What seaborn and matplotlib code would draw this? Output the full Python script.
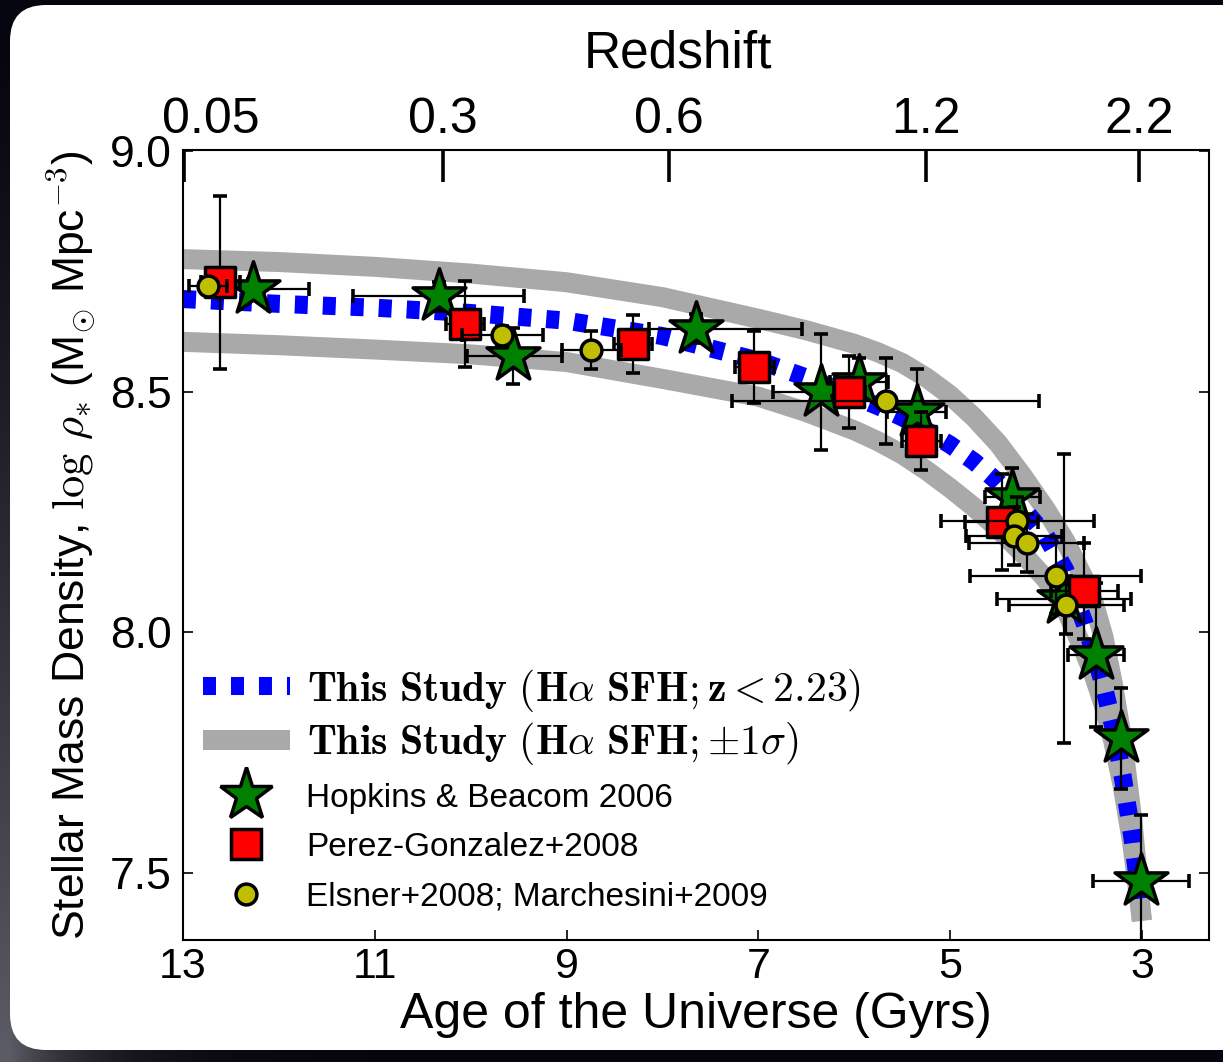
import numpy as np
import pandas as pd
import matplotlib
matplotlib.use("Agg")
import matplotlib.pyplot as plt
import seaborn as sns
from matplotlib.lines import Line2D
from matplotlib.patches import FancyBboxPatch
from matplotlib.transforms import ScaledTranslation

# ---------------- data ----------------
curve_age = [13.0, 12.0, 11.0, 10.0, 9.0, 8.0, 7.0, 6.5, 6.0, 5.75, 5.5, 5.25, 5.0, 4.75,
             4.5, 4.25, 4.0, 3.8, 3.6, 3.5, 3.4, 3.3, 3.2, 3.1, 3.0]
curve_mid = [8.693, 8.683, 8.675, 8.664, 8.648, 8.616, 8.565, 8.53, 8.49, 8.47, 8.447, 8.42,
             8.39, 8.355, 8.312, 8.26, 8.20, 8.13, 8.02, 7.96, 7.89, 7.805, 7.70, 7.575, 7.42]
curve_up = [8.776, 8.770, 8.760, 8.746, 8.728, 8.697, 8.652, 8.628, 8.600, 8.582, 8.560, 8.530,
            8.493, 8.447, 8.393, 8.327, 8.255, 8.19, 8.11, 8.06, 7.99, 7.89, 7.77, 7.61, 7.40]
curve_lo = [8.604, 8.597, 8.588, 8.578, 8.562, 8.527, 8.49, 8.458, 8.42, 8.397, 8.37, 8.337,
            8.30, 8.26, 8.215, 8.165, 8.11, 8.05, 7.96, 7.91, 7.85, 7.775, 7.68, 7.56, 7.40]

hb_age = [12.27, 10.33, 9.56, 7.65, 6.35, 5.95, 5.35, 4.35, 3.81, 3.48, 3.22, 3.01]
hb_rho = [8.714, 8.699, 8.575, 8.631, 8.50, 8.52, 8.458, 8.282, 8.07, 7.952, 7.78, 7.483]
hb_xlo = [0.58, 0.89, 0.51, 1.11, 0.5, 0.3, 0.31, 0.29, 0.7, 0.29, 0.1, 0.5]
hb_xhi = [0.5, 0.9, 0.48, 0.49, 0.5, 0.3, 0.31, 0.29, 0.7, 0.29, 0.1, 0.5]
hb_yerr = [0.02, 0.03, 0.058, 0.03, 0.12, 0.05, 0.09, 0.06, 0.30, 0.15, 0.105, 0.137]

pg_age = [12.61, 10.06, 8.31, 7.04, 6.05, 5.30, 4.46, 3.60]
pg_rho = [8.728, 8.641, 8.60, 8.552, 8.50, 8.398, 8.23, 8.085]
pg_xerr = [0.2, 0.2, 0.2, 0.2, 0.16, 0.2, 0.38, 0.35]
pg_yerr = [0.18, 0.09, 0.06, 0.075, 0.075, 0.06, 0.1, 0.1]

em_age = [12.74, 9.67, 8.74, 5.67, 4.30, 4.33, 4.20, 3.90, 3.79]
em_rho = [8.72, 8.618, 8.587, 8.481, 8.232, 8.20, 8.185, 8.118, 8.056]
em_xerr = [0.2, 0.42, 0.31, 1.6, 0.8, 0.5, 0.6, 0.89, 0.6]
em_yerr = [0.01, 0.02, 0.04, 0.09, 0.05, 0.06, 0.06, 0.08, 0.06]

z_labels = ["0.05", "0.3", "0.6", "1.2", "2.2"]
z_ages = [12.99, 10.29, 7.93, 5.25, 3.03]

age_ticks = [13, 11, 9, 7, 5, 3]
rho_ticks = [7.5, 8.0, 8.5, 9.0]

study_labels = [
    r"$\mathbf{This\ Study\ (H}\alpha\ \mathbf{SFH;z} < \mathbf{2.23)}$",
    r"$\mathbf{This\ Study\ (H}\alpha\ \mathbf{SFH;}{\pm}1\sigma)$",
]
data_labels = [
    "Hopkins & Beacom 2006",
    "Perez-Gonzalez+2008",
    "Elsner+2008; Marchesini+2009",
]

# ---------------- style ----------------
sns.set_theme(style="ticks")
plt.rcParams["font.family"] = ["Liberation Sans", "DejaVu Sans"]
plt.rcParams["mathtext.fontset"] = "cm"
for k in ["text.color", "axes.labelcolor", "xtick.color", "ytick.color", "axes.edgecolor"]:
    plt.rcParams[k] = "black"

W, H = 1223, 1062
fig = plt.figure(figsize=(W / 100, H / 100), dpi=100)
fig.patch.set_facecolor("black")

# background: dark with grey-blue glow on the lower left, white rounded panel
bg = fig.add_axes([0, 0, 1, 1], zorder=-10)
bg.set_xlim(0, W)
bg.set_ylim(H, 0)
bg.axis("off")
gy, gx = np.mgrid[0:1:60j, 0:1:60j]
t = gy ** 1.3 * np.exp(-gx * W / 80.0)
c0 = np.array([0.02, 0.02, 0.06])
c1 = np.array([0.36, 0.36, 0.40])
img = c0[None, None, :] * (1 - t[..., None]) + c1[None, None, :] * t[..., None]
bg.imshow(img, extent=[0, W, H, 0], aspect="auto", interpolation="bilinear")
bg.add_patch(FancyBboxPatch((10, 5), 1280, 1045,
                            boxstyle="round,pad=0,rounding_size=36",
                            facecolor="white", edgecolor="none"))

ax = fig.add_axes([183 / W, 122 / H, 1026 / W, 790 / H])
ax.set_facecolor("white")

# curves
sns.lineplot(x=curve_age, y=curve_up, ax=ax, color="darkgray", lw=14.4,
             sort=False, estimator=None, solid_capstyle="butt", zorder=1)
sns.lineplot(x=curve_age, y=curve_lo, ax=ax, color="darkgray", lw=14.4,
             sort=False, estimator=None, solid_capstyle="butt", zorder=1)
sns.lineplot(x=curve_age, y=curve_mid, ax=ax, color="blue", lw=13,
             sort=False, estimator=None, linestyle=(0, (0.72, 0.83)), zorder=2)

eb = dict(fmt="none", ecolor="black", elinewidth=1.6, capsize=4.7, capthick=2.6)

ax.errorbar(hb_age, hb_rho, xerr=[hb_xlo, hb_xhi], yerr=hb_yerr, zorder=3, **eb)
sns.scatterplot(x=hb_age, y=hb_rho, ax=ax, marker="*", s=1600, color="green",
                edgecolor="black", linewidth=2.5, zorder=4, legend=False)

ax.errorbar(pg_age, pg_rho, xerr=pg_xerr, yerr=pg_yerr, zorder=5, **eb)
sns.scatterplot(x=pg_age, y=pg_rho, ax=ax, marker="s", s=484, color="red",
                edgecolor="black", linewidth=2.5, zorder=6, legend=False)

ax.errorbar(em_age, em_rho, xerr=em_xerr, yerr=em_yerr, zorder=7, **eb)
sns.scatterplot(x=em_age, y=em_rho, ax=ax, marker="o", s=225, color=(0.75, 0.75, 0.0),
                edgecolor="black", linewidth=2.5, zorder=8, legend=False)

ax.set_xlim(13.0, 2.3)
ax.set_ylim(7.36, 9.003)
ax.set_xticks(age_ticks)
ax.set_xticklabels([str(a) for a in age_ticks])
ax.set_yticks(rho_ticks)
ax.set_yticklabels([f"{v:.1f}" for v in rho_ticks])
ax.tick_params(axis="both", direction="in", length=7, width=1.2, top=True, right=True,
               colors="black")
ax.tick_params(axis="x", labelsize=31, pad=5)
ax.tick_params(axis="y", labelsize=32, pad=8)
for s in ax.spines.values():
    s.set_linewidth(1.5)
    s.set_color("black")

ax.set_xlabel("Age of the Universe (Gyrs)", fontsize=36, color="black")
ax.xaxis.set_label_coords(0.5, -0.066)
ax.set_ylabel(r"Stellar Mass Density, $\log\,\rho_{*}$ (M$_{\odot}$ Mpc$^{-3}$)",
              fontsize=32, color="black")
ax.yaxis.set_label_coords(-0.083, 0.5)

# top redshift axis
ax2 = ax.twiny()
ax2.set_xlim(ax.get_xlim())
ax2.set_xticks(z_ages)
ax2.set_xticklabels(z_labels)
ax2.tick_params(axis="x", direction="in", length=23, width=2.6, labelsize=36, pad=5,
                colors="black")
ax2.set_xlabel("Redshift", fontsize=37, color="black")
ax2.xaxis.set_label_coords(0.482, 1.105)
lab0 = ax2.get_xticklabels()[0]
lab0.set_transform(lab0.get_transform() + ScaledTranslation(0.27, 0, fig.dpi_scale_trans))

# legends: two model rows (bold math text) and three data rows
study_handles = [
    Line2D([], [], color="blue", lw=13, ls=(0, (0.72, 0.83))),
    Line2D([], [], color="darkgray", lw=14.4, solid_capstyle="butt"),
]
data_handles = [
    Line2D([], [], ls="none", marker="*", ms=40, mfc="green", mec="black", mew=2.5),
    Line2D([], [], ls="none", marker="s", ms=22, mfc="red", mec="black", mew=2.5),
    Line2D([], [], ls="none", marker="o", ms=15, mfc=(0.75, 0.75, 0.0), mec="black", mew=2.5),
]
leg1 = ax.legend(study_handles, study_labels, loc="upper left",
                 bbox_to_anchor=(0.0195, 0.3456), frameon=False, fontsize=30,
                 handlelength=2.09, handletextpad=0.41, labelspacing=0.15,
                 borderpad=0, borderaxespad=0)
ax.add_artist(leg1)
leg2 = ax.legend(data_handles, data_labels, loc="lower left", bbox_to_anchor=(0.0195, 0.035),
                 frameon=False, fontsize=24, handlelength=2.6, handletextpad=0.5,
                 labelspacing=0.55, borderpad=0, borderaxespad=0, numpoints=1)
for lg in (leg1, leg2):
    for txt in lg.get_texts():
        txt.set_color("black")

fig.savefig("out.png", dpi=100, facecolor=fig.get_facecolor())
